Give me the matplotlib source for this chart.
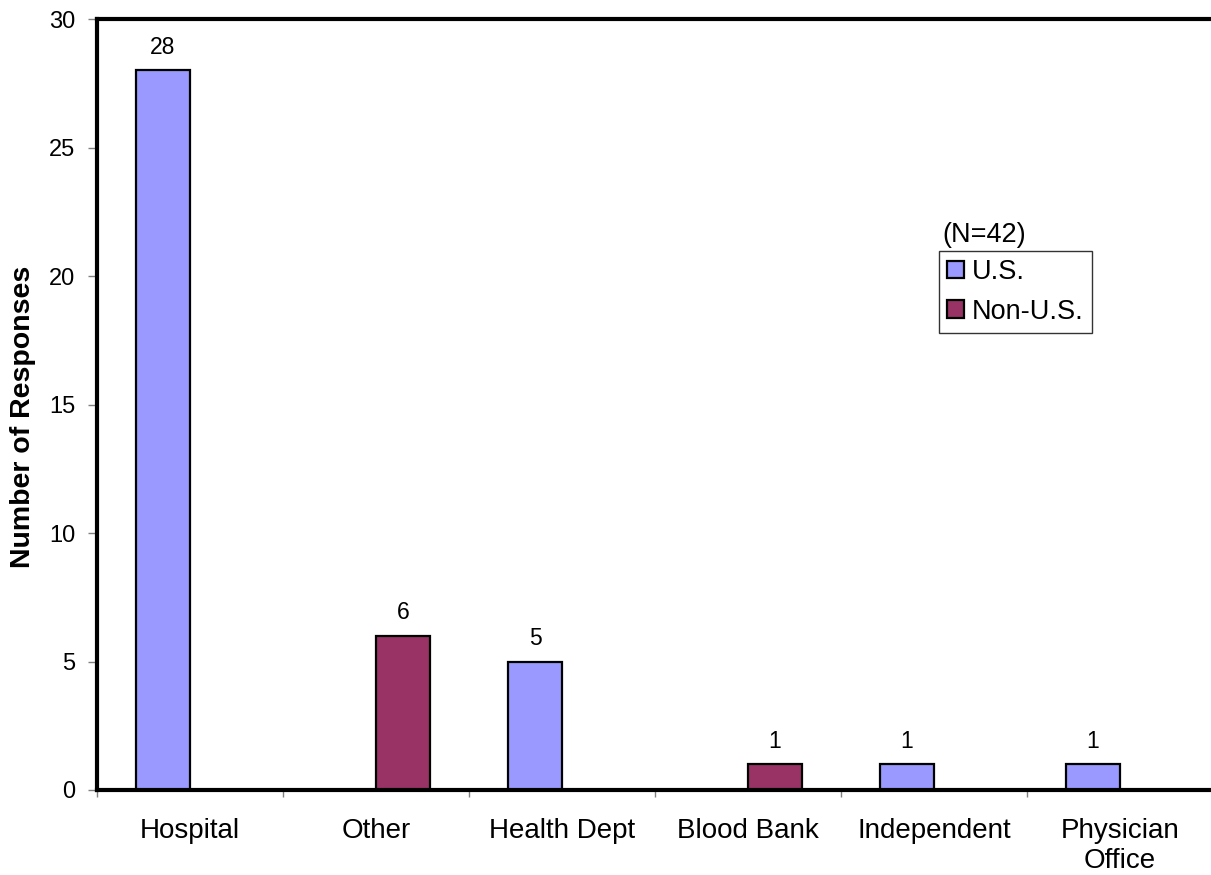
import numpy as np
import matplotlib
matplotlib.use('Agg')
import matplotlib.pyplot as plt

# responses by facility type
categories = ['Hospital', 'Other', 'Health Dept', 'Blood Bank', 'Independent', 'Physician\nOffice']
us_counts = [28, 0, 5, 0, 1, 1]
non_us_counts = [0, 6, 0, 1, 0, 0]
yticks = [0, 5, 10, 15, 20, 25, 30]

plt.rcParams['font.family'] = ['Liberation Sans', 'DejaVu Sans']

fig = plt.figure(figsize=(12.11, 8.75), dpi=100)
W, H = 1211.0, 875.0
ax = fig.add_axes([97 / W, (H - 790) / H, 1116 / W, (790 - 19) / H])

x = np.arange(len(categories))
w = 0.29
us_bars = ax.bar(x - w / 2, us_counts, w, color='#9999FF', edgecolor='black', linewidth=1.6, label='U.S.')
non_us_bars = ax.bar(x + w / 2, non_us_counts, w, color='#993366', edgecolor='black', linewidth=1.6, label='Non-U.S.')

# value labels on the non-empty bars
for bars, vals in [(us_bars, us_counts), (non_us_bars, non_us_counts)]:
    for b, v in zip(bars, vals):
        if v == 0:
            continue
        ax.annotate(str(v), (b.get_x() + b.get_width() / 2, v), xytext=(0, 12),
                    textcoords='offset points', ha='center', va='baseline', fontsize=16.5)

ax.set_xlim(-0.5, len(categories) - 0.5)
ax.set_ylim(0, 30)
ax.set_yticks(yticks)
ax.tick_params(axis='y', direction='out', length=6.5, width=1, color='#808080', labelsize=17, pad=9)

# category boundaries get the tick marks, names sit between them
ax.set_xticks(np.arange(-0.5, len(categories)), labels=[])
ax.set_xticks(x, labels=categories, minor=True)
ax.tick_params(axis='x', which='major', direction='out', length=5, width=1, color='#808080')
ax.tick_params(axis='x', which='minor', length=0, labelsize=20, pad=20)
for lbl in ax.get_xticklabels(minor=True):
    lbl.set_linespacing(1.2)

for side in ['left', 'bottom', 'top']:
    ax.spines[side].set_linewidth(3)
ax.spines['right'].set_visible(False)

fig.text(23 / W, 1 - 417 / H, 'Number of Responses', rotation=90, ha='center', va='center',
         fontsize=20.5, fontweight='bold')

leg = ax.legend(loc='upper left', bbox_to_anchor=(939 / W, 1 - 251 / H), bbox_transform=fig.transFigure,
                fontsize=19.5, frameon=True, fancybox=False, borderaxespad=0, borderpad=0.3,
                handlelength=0.62, handleheight=0.62, handletextpad=0.3, labelspacing=0.5)
leg.get_frame().set_edgecolor('black')
leg.get_frame().set_linewidth(1.0)
fig.text(942 / W, 1 - 235 / H, '(N=42)', ha='left', va='center', fontsize=19.5)

fig.savefig('out.png', dpi=100)
